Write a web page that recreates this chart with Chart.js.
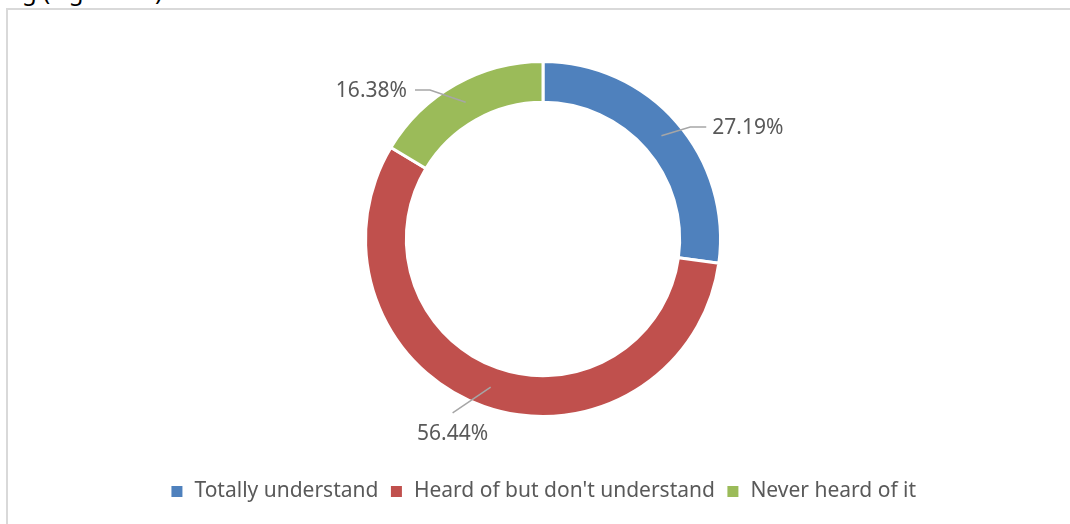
<!DOCTYPE html>
<html>
<head>
<meta charset="utf-8">
<script src="https://cdn.jsdelivr.net/npm/chart.js@4/dist/chart.umd.min.js"></script>
<style>
  html, body { margin:0; padding:0; background:#fff; overflow:hidden; }
  body { width:1070px; height:524px; position:relative; }
  #cut { position:absolute; left:22px; top:-26px; font:24px "Noto Sans", sans-serif; color:#000; white-space:nowrap; }
  #frame { position:absolute; left:6px; top:8px; width:1100px; height:600px; border-top:2px solid #d9d9d9; border-left:2px solid #d9d9d9; }
  #wrap { position:absolute; left:0; top:0; width:1070px; height:524px; }
</style>
</head>
<body>
<div id="cut">g (Figure 10)</div>
<div id="frame"></div>
<div id="wrap"><canvas id="donut"></canvas></div>
<script>
const categories = ["Totally understand", "Heard of but don't understand", "Never heard of it"];
const shares = [27.19, 56.44, 16.38];
const labelsText = ["27.19%", "56.44%", "16.38%"];
const colors = ["#4f81bd", "#c0504d", "#9bbb59"];

// leader line settings per slice: elbow angle offset (deg), elbow radius, horizontal tail
const leaders = [
  { dAng: 3.8, r: 185, tail: 16, align: "left" },
  { dAng: 8, r: 196, tail: 0, align: "below" },
  { dAng: -7.7, r: 187, tail: -15, align: "right" }
];

const leaderPlugin = {
  id: "leaders",
  afterDatasetsDraw(chart) {
    const ctx = chart.ctx;
    const meta = chart.getDatasetMeta(0);
    ctx.save();
    ctx.font = '21px "Noto Sans", sans-serif';
    ctx.fillStyle = "#595959";
    meta.data.forEach((arc, i) => {
      const p = arc.getProps(["x","y","startAngle","endAngle","innerRadius","outerRadius"], true);
      const mid = (p.startAngle + p.endAngle) / 2;
      const r0 = (p.innerRadius + p.outerRadius) / 2;
      const L = leaders[i];
      const a1 = mid + L.dAng * Math.PI / 180;
      const sx = p.x + r0 * Math.cos(mid), sy = p.y + r0 * Math.sin(mid);
      const ex = p.x + L.r * Math.cos(a1), ey = p.y + L.r * Math.sin(a1);
      ctx.strokeStyle = "#a6a6a6";
      ctx.lineWidth = 1.5;
      ctx.beginPath();
      ctx.moveTo(sx, sy);
      ctx.lineTo(ex, ey);
      if (L.tail) ctx.lineTo(ex + L.tail, ey);
      ctx.stroke();
      if (L.align === "left") {
        ctx.textAlign = "left"; ctx.textBaseline = "middle";
        ctx.fillText(labelsText[i], ex + L.tail + 6, ey + 1);
      } else if (L.align === "right") {
        ctx.textAlign = "right"; ctx.textBaseline = "middle";
        ctx.fillText(labelsText[i], ex + L.tail - 8, ey + 1);
      } else {
        ctx.textAlign = "center"; ctx.textBaseline = "middle";
        ctx.fillText(labelsText[i], ex, ey + 21);
      }
    });
    ctx.restore();
  }
};

new Chart(document.getElementById("donut"), {
  type: "doughnut",
  data: {
    labels: categories,
    datasets: [{
      data: shares,
      backgroundColor: colors,
      borderColor: "#ffffff",
      borderWidth: 3
    }]
  },
  options: {
    responsive: true,
    maintainAspectRatio: false,
    animation: false,
    cutout: "77%",
    layout: { padding: { top: 60, bottom: 12, left: 16 } },
    plugins: {
      tooltip: { enabled: false },
      legend: {
        position: "bottom",
        title: { display: true, text: " ", font: { size: 10 }, padding: { top: 40, bottom: 0 } },
        labels: {
          boxWidth: 14,
          boxHeight: 14,
          padding: 11,
          color: "#595959",
          font: { family: "Noto Sans", size: 21 }
        }
      }
    }
  },
  plugins: [leaderPlugin]
});
</script>
</body>
</html>
